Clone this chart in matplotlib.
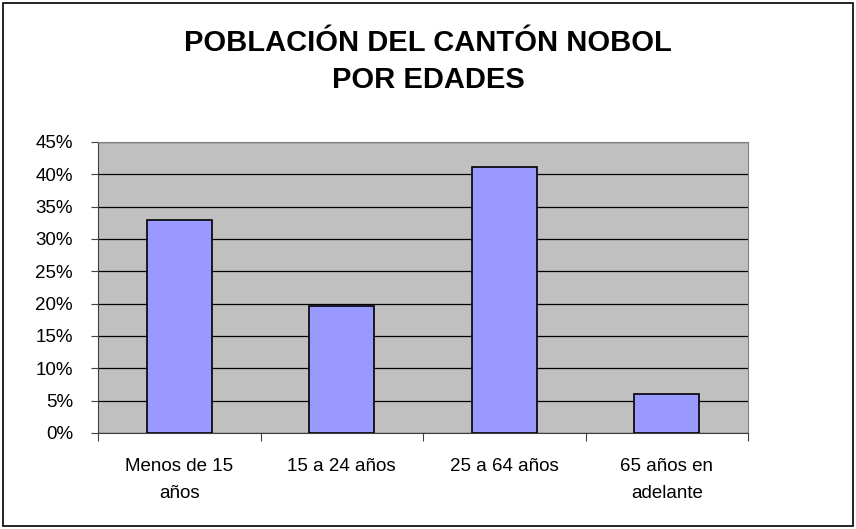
import matplotlib.pyplot as plt
from matplotlib.patches import Rectangle
from matplotlib.ticker import PercentFormatter

# Data
categories = ["Menos de 15\naños", "15 a 24 años", "25 a 64 años", "65 años en\nadelante"]
values = [33.0, 19.7, 41.2, 6.1]
y_ticks = [0, 5, 10, 15, 20, 25, 30, 35, 40, 45]

plt.rcParams['font.family'] = ['Liberation Sans', 'DejaVu Sans']

fig = plt.figure(figsize=(8.56, 5.29), dpi=100)
fig.patch.set_facecolor('white')

# outer chart border
fig.add_artist(Rectangle((0.004, 0.005), 0.992, 0.99, transform=fig.transFigure,
                         fill=False, edgecolor='black', linewidth=1.2))

ax = fig.add_axes([0.1145, 0.1815, 0.7595, 0.5501])
ax.set_facecolor('#C0C0C0')

x = list(range(len(categories)))
ax.bar(x, values, width=0.4, color='#9999FF', edgecolor='black', linewidth=1.2, zorder=3)

ax.set_xlim(-0.5, len(categories) - 0.5)
ax.set_ylim(0, 45)
ax.set_yticks(y_ticks)
ax.yaxis.set_major_formatter(PercentFormatter(decimals=0))
ax.grid(axis='y', color='black', linewidth=0.9, zorder=1)
ax.set_axisbelow(True)

# category ticks between bars
ax.set_xticks([i - 0.5 for i in range(len(categories) + 1)])
ax.set_xticklabels([])
ax.set_xticks(x, minor=True)
ax.set_xticklabels(categories, minor=True, fontsize=13.5, linespacing=1.75)
ax.tick_params(axis='x', which='minor', length=0, pad=18)
ax.tick_params(axis='x', which='major', length=6, direction='out', color='#404040')
ax.tick_params(axis='y', length=5, direction='out', labelsize=13.5, pad=13, color='#404040')

for side in ['top', 'right']:
    ax.spines[side].set_color('#808080')
ax.spines['left'].set_color('#404040')
ax.spines['bottom'].set_color('#404040')

fig.text(0.5, 0.884, "POBLACIÓN DEL CANTÓN NOBOL\nPOR EDADES", ha='center', va='center',
         fontsize=21, fontweight='bold', linespacing=1.4)

fig.savefig('out.png', dpi=100)
